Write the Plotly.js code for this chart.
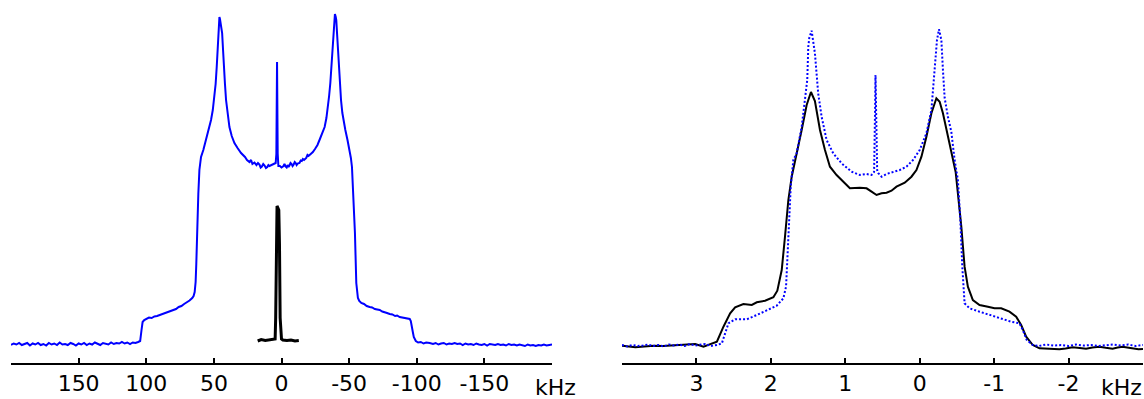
<!DOCTYPE html>
<html>
<head>
<meta charset="utf-8">
<script src="https://cdn.plot.ly/plotly-3.0.1.min.js"></script>
<style>
  html, body { margin: 0; padding: 0; background: #ffffff; }
  #chart { width: 1144px; height: 399px; }
</style>
</head>
<body>
<div id="chart"></div>
<script>
// Left panel: static spectrum (blue) and narrow reference line (black), kHz
const leftKHz = [
  200,198,196,194,192,190,188,186,184,182,180,178,176,174,172,170,168,166,164,162,
  160,158,156,154,152,150,148,146,144,142,140,138,136,134,132,130,128,126,124,122,
  120,118,116,114,112,110,108,106,
  104.5,103.5,102.7,101.5,100,98,96,94,92,90,88,86,84,82,80,78,76,74,72,70,68,66,65,
  64.2,63.5,63,62.3,61.5,60.7,59.5,57.8,55.8,54,52.1,50.8,49.6,48.7,47.9,47.2,46.7,
  46.2,45.9,45.5,44.8,43.9,43.3,42.7,41.8,41,39.8,38.5,36.8,34.8,32.5,29.9,27,25.5,
  23.7,22.5,21.5,20,18.5,17.4,16.3,15.4,14.5,13.5,12.5,11.5,10.5,9.7,8.9,7,5.5,4.3,3.8,3.3,2.8,2.3,1.2,0,
  -1.5,-2.2,-3,-3.8,-4.5,-5.2,-5.9,-6.7,-7.5,-8.2,-9,-9.8,-10.5,-11.2,-12,-13.3,-14.2,-15,-15.8,-16.7,-18.3,-19.2,-20,-21.5,-23.2,-25,
  -26.6,-28.1,-30,-31.9,-33.2,-34.3,-35.2,-36.1,-36.9,-37.6,-38.2,-38.7,-39.5,-40.1,
  -40.5,-41.1,-41.7,-42.3,-43,-44,-45,-46,-47.2,-48.8,-50.4,-51.3,-52.1,-52.8,-53.5,
  -54.3,-55.3,-56,-56.5,-57.5,-59,-61,-63,-65.2,-67,-69,-71,-72.6,-74.5,-76.5,-78,
  -80,-82,-84,-85.5,-87.4,-89,-91,-93,-94.8,-95.6,-96.3,-97.1,-97.8,-98.6,-99.3,
  -101,-103,-105,-107,-109.6,
  -112,-114,-116,-118,-120,-122,-124,-126,-128,-130,-132,-134,-136,-138,-140,-142,
  -144,-146,-148,-150,-152,-154,-156,-158,-160,-162,-164,-166,-168,-170,-172,-174,
  -176,-178,-180,-182,-184,-186,-188,-190,-192,-194,-196,-198,-200
];
const leftBlue = [
  -1,0.5,-0.5,1,-1,0,1,-1.5,0.5,-0.5,1,-1,0,-1.5,1,-0.5,0.5,-1,1.5,-0.5,
  0,-1,1,0,-1.5,0.5,-0.5,1,-1,0.5,-0.5,1.5,0,-1,1,0.5,-0.5,1.5,0,1,
  0.5,2,0.5,1.5,0,1.5,1,2,
  3,14,22,24,25,26.5,26,27.5,28,29,29.5,31,31.5,32.5,34,35,37,38,40,41.5,43.5,46,48,
  52,62,80,120,150,174,187,194,204,213,224,234,247,260,277,296,311,
  322,327,325,320,311,296,277,260,244,228,217,208,201,196,191,187,184,
  182,184,180,181.5,179,181,179.5,176.5,177.5,180,178.5,176,177,179,178,179,180,181,190,282,190,178,178,176.5,
  178,180,177.5,176.5,179,177,178.5,181,180,178,179.5,182,181,179,180.5,181,183.5,183,185,184,186,189,188,189.5,192,195.5,
  199,204,210,217,226,237,248,261,278,294,310,324,330,327,
  324,310,294,277,261,244,231,222,214,204,194,186,177,160,140,
  111,61,50,46,43,41,40,38,37,36.5,35,34.5,34,32.5,32,31,
  30,29.5,28,28.5,27,26.5,26,25.5,25,23,19,12,7,4,3,
  1.5,2,0.5,1.5,1,
  0,1,-0.5,0.5,1,-0.5,0.5,0,1,0,0.5,-1,0.5,-0.5,0,-1,
  0.5,-0.5,-1,0,-1.5,0,-0.5,-1,0,-1,-0.5,-1.5,0,-1,-0.5,-1.5,
  -0.5,-1,-2,-0.5,-1.5,-1,-2,-1,-1.5,-0.5,-1.5,-1,-0.5
];
const leftPeakKHz = [17.6,15,12,9,6,4.7,4.3,3.8,3.3,2.6,2.0,1.5,1.0,0.0,-1,-4,-7,-10,-12.8];
const leftPeakBlack = [3,4.5,3.5,4,4.5,5,26,100,138,136,134,100,26,5,4,3.5,4,3,3.5];

// Right panel: solid black and dotted blue spectra, kHz
const rightKHzSolid = [
  4.0,3.9,3.82,3.7,3.575,3.45,3.35,3.24,3.127,3.016,2.905,2.815,2.725,2.637,2.547,
  2.48,2.369,2.256,2.189,2.078,1.966,1.913,1.854,1.81,1.765,1.72,1.653,1.586,1.519,
  1.461,1.408,1.34,1.273,1.206,1.117,1.028,0.938,0.804,0.714,0.647,0.58,0.513,0.446,
  0.379,0.312,0.201,0.111,0.044,-0.023,-0.09,-0.157,-0.224,-0.268,-0.312,-0.358,
  -0.425,-0.483,-0.513,-0.559,-0.603,-0.647,-0.714,-0.804,-0.916,-1.005,-1.095,
  -1.206,-1.296,-1.363,-1.43,-1.519,-1.609,-1.75,-1.877,-1.96,-2.055,-2.15,-2.235,
  -2.32,-2.413,-2.5,-2.591,-2.66,-2.725,-2.83,-2.94,-3.0
];
const rightSolid = [
  -1.7,-2.5,-3.3,-2.5,-1.7,-2,-1.7,-1,-0.3,0,-2.7,0,2.3,17.3,30.7,
  36.7,40,39,41.7,43.3,46.7,53.3,74,107.3,144,167.3,189,214,239,
  252,243,214,194,177.3,169,162.3,155.7,156.3,155.7,152.3,149,150.7,151.3,
  153.3,157.3,161.3,167.3,174,187.3,207.3,230.7,245.7,242.3,230.7,216,
  192,172,150.7,117.3,77.3,57.3,44,39,37.3,35.7,35.7,
  32.3,27.3,19,7.3,-1,-4.3,-5,-5.3,-4.5,-3.3,-4,-4.7,
  -3.5,-2.7,-3.8,-4.7,-3.5,-2.7,-4,-5.3,-5
];
const rightKHzDot = [
  4.0,3.93,3.86,3.79,3.72,3.65,3.58,3.51,3.44,3.37,3.3,3.23,3.16,3.09,3.02,2.95,2.88,
  2.81,2.76,2.725,2.658,2.614,2.57,2.48,2.323,2.189,2.055,1.921,1.832,1.796,1.779,
  1.752,1.733,1.698,1.653,1.586,1.542,1.511,1.497,1.484,1.452,1.408,1.364,1.318,
  1.251,1.162,1.05,0.916,0.804,0.714,0.647,0.613,0.6,0.594,0.586,0.572,0.559,0.513,
  0.446,0.358,0.268,0.178,0.09,0.0,-0.09,-0.157,-0.201,-0.232,-0.259,-0.291,-0.312,
  -0.335,-0.379,-0.425,-0.469,-0.513,-0.546,-0.572,-0.603,-0.67,-0.804,-0.938,-1.072,
  -1.229,-1.34,-1.385,-1.438,-1.519,-1.6,-1.7,-1.8,-1.9,-2.0,-2.1,-2.2,-2.3,-2.4,
  -2.5,-2.6,-2.7,-2.8,-2.9,-3.0
];
const rightDot = [
  -1,-2.5,-1,-2,-1.5,-0.5,-2,-1,-2.5,-0.5,-1.5,-0.5,-2,0,-1.5,-0.5,0,
  -2,-1.5,-1,0.7,10.7,20.7,24.7,24.7,29,33.3,38.3,45.7,57.3,84,
  134,157.3,184,190.7,217,242.3,264,297.3,306,313.3,290.7,250.7,227.3,
  204,190.7,180.7,172.3,169,170,169,172,234,269,234,174,171,167.3,
  170,172.3,174,177.3,184,194,210.7,234,274,304,314.7,304,274,
  246,227.3,212,184,164,124,77.3,40.7,35.7,32.3,29,25.7,
  22.3,20.7,14,4,-1,-2,-0.5,-1.5,-1,-2,-0.5,-1.5,-1,-2,
  -1,-0.5,-1.5,-0.5,-2,-1
];

const leftTicks = [150, 100, 50, 0, -50, -100, -150, -200];
const leftTickText = ['150', '100', '50', '0', '-50', '-100', '-150', ''];
const rightTicks = [3, 2, 1, 0, -1, -2, -3];
const rightTickText = ['3', '2', '1', '0', '-1', '-2', ''];
const unitLabel = 'kHz';

const W = 1144, H = 399, plotH = 363;
const tickFont = { family: 'DejaVu Sans, Verdana, sans-serif', size: 22, color: '#000000' };

function freqAxis(domain, range, vals, text) {
  return {
    domain: domain,
    range: range,
    tickmode: 'array',
    tickvals: vals,
    ticktext: text,
    ticks: 'inside',
    ticklen: 5,
    tickwidth: 2,
    tickcolor: '#000000',
    showline: true,
    linecolor: '#000000',
    linewidth: 2,
    showgrid: false,
    zeroline: false,
    tickfont: tickFont,
    fixedrange: true
  };
}
function hiddenY() {
  return { domain: [0, 1], range: [-19, 344], visible: false, fixedrange: true };
}

const traces = [
  { x: leftKHz, y: leftBlue, xaxis: 'x', yaxis: 'y', mode: 'lines',
    line: { color: '#0000ff', width: 2 }, hoverinfo: 'skip' },
  { x: leftPeakKHz, y: leftPeakBlack, xaxis: 'x', yaxis: 'y', mode: 'lines',
    line: { color: '#000000', width: 3 }, hoverinfo: 'skip' },
  { x: rightKHzSolid, y: rightSolid, xaxis: 'x2', yaxis: 'y2', mode: 'lines',
    line: { color: '#000000', width: 2 }, hoverinfo: 'skip' },
  { x: rightKHzDot, y: rightDot, xaxis: 'x2', yaxis: 'y2', mode: 'lines',
    line: { color: '#0000ff', width: 2, dash: '2px,2px' }, hoverinfo: 'skip' }
];

const layout = {
  width: W,
  height: H,
  margin: { l: 0, r: 0, t: 0, b: H - plotH, pad: 0 },
  paper_bgcolor: '#ffffff',
  plot_bgcolor: '#ffffff',
  showlegend: false,
  xaxis: Object.assign(freqAxis([11 / W, 552 / W], [200, -200], leftTicks, leftTickText), { anchor: 'y' }),
  yaxis: Object.assign(hiddenY(), { anchor: 'x' }),
  xaxis2: Object.assign(freqAxis([622 / W, 1143 / W], [4, -3], rightTicks, rightTickText), { anchor: 'y2' }),
  yaxis2: Object.assign(hiddenY(), { anchor: 'x2' }),
  annotations: [
    { text: unitLabel, xref: 'paper', yref: 'paper', x: 555 / W, y: (plotH - 388) / plotH,
      xanchor: 'center', yanchor: 'middle', showarrow: false, font: tickFont },
    { text: unitLabel, xref: 'paper', yref: 'paper', x: 1121 / W, y: (plotH - 388) / plotH,
      xanchor: 'center', yanchor: 'middle', showarrow: false, font: tickFont }
  ]
};

Plotly.newPlot('chart', traces, layout, { staticPlot: true, displayModeBar: false });
</script>
</body>
</html>
